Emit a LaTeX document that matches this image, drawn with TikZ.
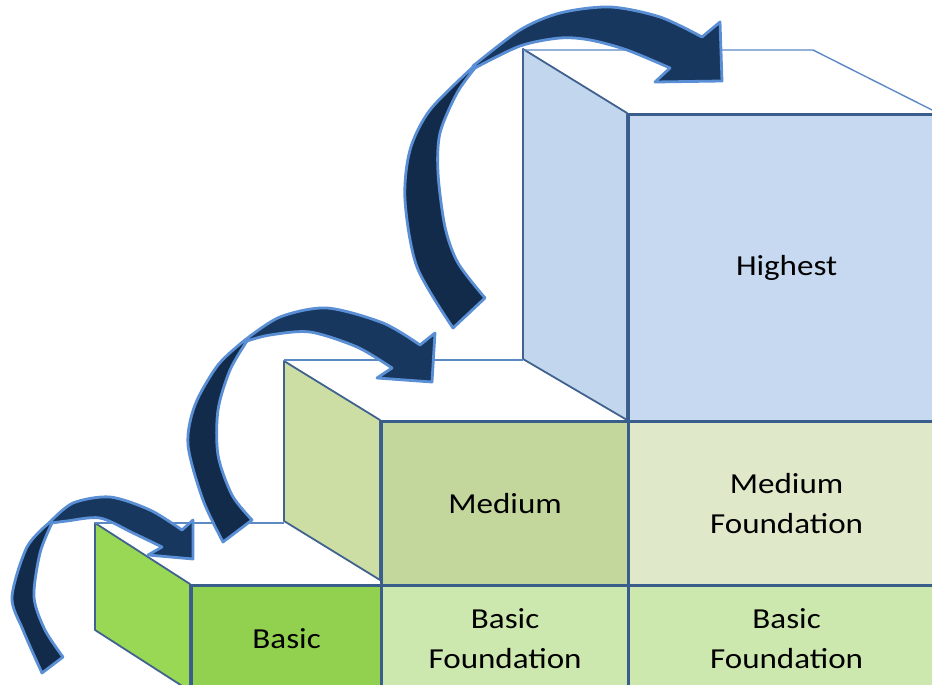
\documentclass[tikz,border=0pt]{standalone}
\usepackage{fontspec}
\setmainfont{Carlito}[FakeStretch=1.14]
\definecolor{frontline}{HTML}{3A5E8C}
\definecolor{sideline}{HTML}{41628F}
\definecolor{backline}{HTML}{5B89C4}
\definecolor{basicfront}{HTML}{92D050}
\definecolor{basicside}{HTML}{98D854}
\definecolor{basicfound}{HTML}{CDE8AF}
\definecolor{medfront}{HTML}{C3D69B}
\definecolor{medside}{HTML}{CCDEA4}
\definecolor{medfound}{HTML}{DFE8C9}
\definecolor{highfront}{HTML}{C6D9F1}
\definecolor{highside}{HTML}{C2D7EE}
\definecolor{arrdark}{HTML}{122B4A}
\definecolor{arrmid}{HTML}{18375E}
\definecolor{arredge}{HTML}{5A8FD5}
\begin{document}
\begin{tikzpicture}[x=1pt,y=-1pt,
  front/.style={draw=frontline, line width=3.2pt, anchor=north west, inner sep=0pt,
    align=center, text=black, font=\fontsize{29}{40}\selectfont},
  sideface/.style={draw=sideline, line width=1.8pt, line join=round},
  backedge/.style={draw=backline, line width=1.4pt},
  arrlow/.style={fill=arrdark, draw=arredge, line width=2.8pt, line join=round},
  arrup/.style={fill=arrmid, draw=arredge, line width=2.8pt, line join=round}]
\useasboundingbox (0,0) rectangle (932,685);
\clip (0,0) rectangle (932,685);
% side faces
\filldraw[sideface, fill=basicside] (95,523) -- (190,584) -- (190,691) -- (95,630) -- cycle;
\filldraw[sideface, fill=medside] (284,361) -- (380,420) -- (380,580) -- (284,521) -- cycle;
\filldraw[sideface, fill=highside] (523,49) -- (627,113) -- (627,420) -- (523,359) -- cycle;
% back edges of top faces
\draw[backedge] (95,523) -- (284,523);
\draw[backedge] (284,360) -- (523,360);
\draw[backedge] (523,50) -- (813,50) -- (940,114);
% front faces
\node[front, fill=highfront, minimum width=316pt, minimum height=307pt] (highest) at (627,113) {Highest};
\node[front, fill=medfront, minimum width=247pt, minimum height=164pt] (medium) at (380,420) {Medium};
\node[front, fill=medfound, minimum width=316pt, minimum height=164pt] (medfound) at (627,420) {Medium\\Foundation};
\node[front, fill=basicfront, minimum width=190pt, minimum height=106pt] (basic) at (190,584) {Basic};
\node[front, fill=basicfound, minimum width=247pt, minimum height=106pt] (basicfound1) at (380,584) {Basic\\Foundation};
\node[front, fill=basicfound, minimum width=316pt, minimum height=106pt] (basicfound2) at (627,584) {Basic\\Foundation};
% arrow 1
\filldraw[arrlow] plot[smooth] coordinates {(42,673) (23,630) (12,597) (27,547) (50,522)}
  -- plot[smooth] coordinates {(52,523) (40,553) (34,597) (45,630) (63,657)} -- cycle;
\filldraw[arrup] plot[smooth] coordinates {(50,522) (73,503) (110,497) (150,510) (182,530)}
  -- (193,520) -- (193,559) -- (148,555) -- (162,547)
  -- plot[smooth] coordinates {(162,547) (133,533) (100,518) (67,521) (52,523)} -- cycle;
% arrow 2
\filldraw[arrlow] plot[smooth] coordinates {(223,542) (203,500) (188,445) (195,405) (218,365) (245,340)}
  -- plot[smooth] coordinates {(247,341) (230,370) (218,410) (218,455) (232,495) (252,520)} -- cycle;
\filldraw[arrup] plot[smooth] coordinates {(245,340) (280,317) (327,308) (383,323) (420,345)}
  -- (435,333) -- (432,382) -- (377,378) -- (392,368)
  -- plot[smooth] coordinates {(392,368) (357,347) (310,332) (270,335) (247,341)} -- cycle;
% arrow 3
\filldraw[arrlow] plot[smooth] coordinates {(453,328) (417,267) (405,200) (410,150) (430,110) (473,67)}
  -- plot[smooth] coordinates {(475,68) (457,93) (440,133) (438,173) (445,227) (458,263) (485,298)} -- cycle;
\filldraw[arrup] plot[smooth] coordinates {(473,66) (520,30) (560,13) (610,7) (660,17) (702,37)}
  -- (720,22) -- (722,81) -- (655,82) -- (670,68)
  -- plot[smooth] coordinates {(670,68) (627,50) (590,40) (560,38) (520,46) (475,68)} -- cycle;
\end{tikzpicture}
\end{document}
